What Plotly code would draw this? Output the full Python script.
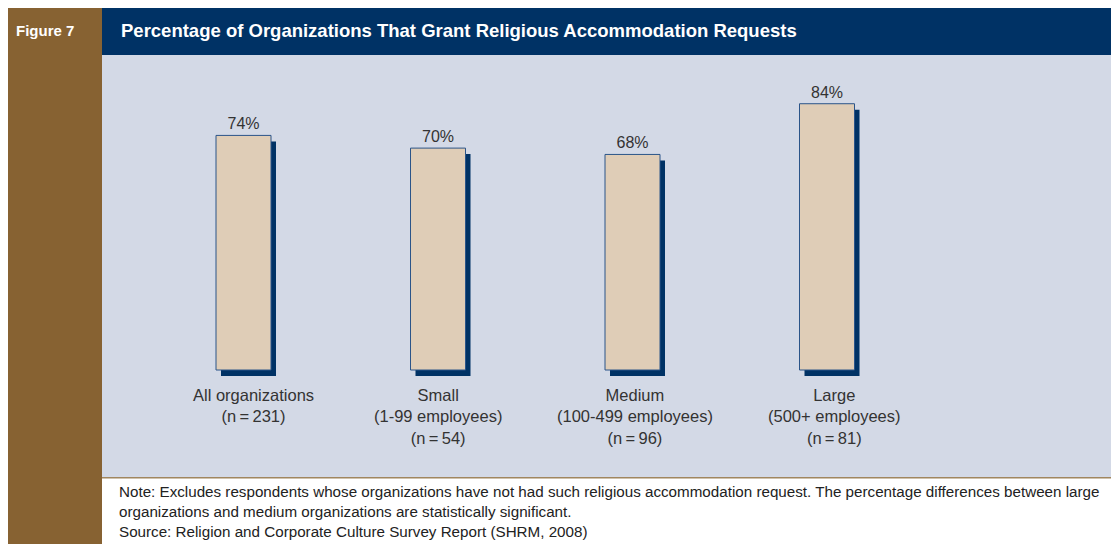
"""
Figure 7 — Percentage of organizations that grant religious accommodation requests.
"""

import plotly.graph_objects as go

# the page body has an 8px margin, so the figure is drawn 8px smaller and
# every reference pixel coordinate is shifted by that amount
OFF = 8
W, H = 1119 - OFF, 544 - OFF

COLORS = {
    "brown": "#876232",
    "navy": "#003265",
    "panel": "#D3D9E6",
    "bar": "#DFCDB7",
    "edge": "#2A5489",
    "text": "#333333",
    "rule": "#A0865F",
}

categories = ["All organizations", "Small", "Medium", "Large"]
subtitles = ["", "(1-99 employees)", "(100-499 employees)", "(500+ employees)"]
sample_sizes = ["(n\u2009=\u2009231)", "(n\u2009=\u200954)", "(n\u2009=\u200996)", "(n\u2009=\u200981)"]
pct = [74, 70, 68, 84]

NOTE = (
    "Note: Excludes respondents whose organizations have not had such religious accommodation request. "
    "The percentage differences between large<br>organizations and medium organizations are statistically "
    "significant.<br>Source: Religion and Corporate Culture Survey Report (SHRM, 2008)"
)

LABEL_FONT = "Liberation Sans Narrow, Arial Narrow, Arial, sans-serif"
BODY_FONT = "Liberation Sans, Arial, sans-serif"

# pixel geometry of the plotting area (reference coordinates)
PX_PER_CAT = 194.5      # distance between bar centres
FIRST_CENTER = 243.5    # x pixel of first bar centre
PX_PER_PCT = 3.17       # vertical scale
ZERO_Y = 370            # y pixel (from top) of the 0% baseline
BAR_W = 55 / PX_PER_CAT
SHADOW_DX = 5 / PX_PER_CAT
SHADOW_DY = 6 / PX_PER_PCT
LABEL_NUDGE = [10, 0, 2, 7]   # category labels sit slightly right of their bars


def px_x(x):
    return (x - OFF) / W


def px_y(y):
    return 1 - (y - OFF) / H


def rect(x0, y0, x1, y1, color):
    return dict(type="rect", xref="paper", yref="paper", layer="below",
                x0=px_x(x0), x1=px_x(x1), y0=px_y(y1), y1=px_y(y0),
                fillcolor=color, line_width=0)


fig = go.Figure()

# navy "extrusion" behind each bar
fig.add_trace(go.Bar(
    x=categories, y=pct, base=[-SHADOW_DY] * len(pct),
    width=BAR_W, offset=-BAR_W / 2 + SHADOW_DX,
    marker=dict(color=COLORS["navy"], line_width=0),
    hoverinfo="skip", showlegend=False,
))
fig.add_trace(go.Bar(
    x=categories, y=pct, width=BAR_W,
    marker=dict(color=COLORS["bar"], line=dict(color=COLORS["edge"], width=1)),
    text=[f"{v}%" for v in pct], textposition="outside", cliponaxis=False,
    textfont=dict(family=LABEL_FONT, size=16, color=COLORS["text"]),
    showlegend=False,
))

x0 = -(FIRST_CENTER - OFF) / PX_PER_CAT
y0 = -(H - (ZERO_Y - OFF)) / PX_PER_PCT
fig.update_layout(
    width=W, height=H,
    margin=dict(l=0, r=0, t=0, b=0),
    paper_bgcolor="white", plot_bgcolor="rgba(0,0,0,0)",
    barmode="overlay",
    xaxis=dict(domain=[0, 1], range=[x0, x0 + W / PX_PER_CAT], visible=False, fixedrange=True),
    yaxis=dict(domain=[0, 1], range=[y0, y0 + H / PX_PER_PCT], visible=False, fixedrange=True),
    shapes=[
        rect(5, 7, 102, 544, COLORS["brown"]),
        rect(102, 7, 1119, 55, COLORS["navy"]),
        rect(102, 55, 1119, 477, COLORS["panel"]),
        rect(102, 477, 1119, 478.5, COLORS["rule"]),
    ],
)

fig.add_annotation(x=px_x(14), y=px_y(31), xref="paper", yref="paper",
                   xanchor="left", yanchor="middle", showarrow=False,
                   text="<b>Figure 7</b>",
                   font=dict(family=BODY_FONT, size=15, color="white"))
fig.add_annotation(x=px_x(119), y=px_y(31), xref="paper", yref="paper",
                   xanchor="left", yanchor="middle", showarrow=False,
                   text="<b>Percentage of Organizations That Grant Religious Accommodation Requests</b>",
                   font=dict(family=BODY_FONT, size=18.5, color="white"))

for cat, sub, n, dx in zip(categories, subtitles, sample_sizes, LABEL_NUDGE):
    lines = [cat] + ([sub] if sub else []) + [n]
    fig.add_annotation(x=cat, y=0, xshift=dx, yshift=-14, xref="x", yref="y",
                       xanchor="center", yanchor="top", showarrow=False,
                       text="<br>".join(lines), align="center",
                       font=dict(family=LABEL_FONT, size=16.5, color=COLORS["text"]))

fig.add_annotation(x=px_x(117), y=px_y(481), xref="paper", yref="paper",
                   xanchor="left", yanchor="top", showarrow=False, align="left",
                   text=NOTE,
                   font=dict(family=BODY_FONT, size=15.2, color="#222222"))

fig.write_html("out.html")
